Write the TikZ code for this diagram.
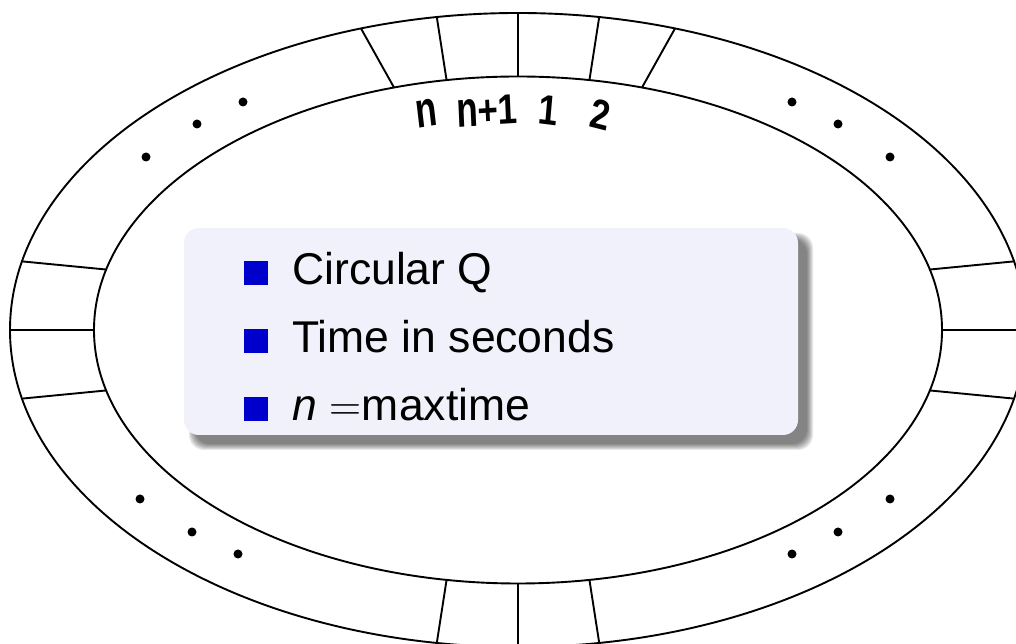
\documentclass[tikz,border=0pt]{standalone}
\usepackage{fontspec}
\usepackage{graphicx}
\setmainfont{Liberation Sans}
\newfontfamily\lmr{Latin Modern Roman}
\usetikzlibrary{calc}
\definecolor{boxfill}{RGB}{241,241,251}
\definecolor{bulletblue}{RGB}{0,0,204}
\newcommand{\tn}{\scalebox{1}[1.2]{n}}
\begin{document}
\begin{tikzpicture}[x=1pt,y=1pt,
  ring/.style={line width=1.9pt},
  dot/.style={circle,fill=black,inner sep=0pt,minimum size=9pt},
  lbl/.style={font=\fontsize{35}{35}\selectfont\bfseries, inner sep=0pt, yscale=1.2},
  itemtext/.style={anchor=base west, inner sep=0pt, font=\fontsize{44.5}{45}\selectfont},
  bul/.style={fill=bulletblue, minimum size=24pt, inner sep=0pt}]
\useasboundingbox (0,0) rectangle (1016,644);
\clip (0,0) rectangle (1016,644);
\coordinate (C) at (518,314);
% ring
\draw[ring] (C) ellipse [x radius=508, y radius=317];
\draw[ring] (C) ellipse [x radius=424, y radius=253.5];
\foreach \i/\a/\b in {1/107/108, 2/99.7/99.2, 3/90/90, 4/80.3/80.8, 5/73/72,
  6/166.2/167.5, 7/180/180, 8/193.8/192.5,
  9/13.8/12.5, 10/0/0, 11/-13.8/-12.5,
  12/260.3/260.8, 13/270/270, 14/279.7/279.2} {
  \coordinate (in\i) at ($(C)+(\a:424 and 253.5)$);
  \coordinate (out\i) at ($(C)+(\b:508 and 317)$);
  \draw[ring] (in\i) -- (out\i);
}
% dots
\foreach \n/\x/\y in {a/243/542, b/197/520, c/146/487,
  d/792/542, e/838/520, f/890/487,
  g/140/145, h/192/112, i/238/90,
  j/890/145, k/838/112, l/792/90}
  \node[dot] (dot\n) at (\x,\y) {};
% slot labels
\node[lbl, rotate=8] (ln) at (427,531) {\tn};
\node[lbl, rotate=3] (lnp) at (487,533) {\tn+1};
\node[lbl, rotate=-6] (l1) at (548,534) {1};
\node[lbl, rotate=-12] (l2) at (601,529) {2};
% shadow
\foreach \k in {0,...,6}
  \fill[black, opacity=0.09, rounded corners=15pt]
    (184+10-5+\k, 209-10-5+\k) rectangle (798+10+5-\k, 416-10+5-\k);
% box
\fill[boxfill, rounded corners=15pt] (184,209) rectangle (798,416);
\node[bul] (b1) at (256,371) {};
\node[bul] (b2) at (256,303) {};
\node[bul] (b3) at (256,235) {};
\node[itemtext] (t1) at (292,359) {Circular Q};
\node[itemtext] (t2) at (292,291) {Time in seconds};
\node[itemtext] (t3) at (292,223) {\textit{n}\hspace{13pt}{\lmr =}maxtime};
\end{tikzpicture}
\end{document}
